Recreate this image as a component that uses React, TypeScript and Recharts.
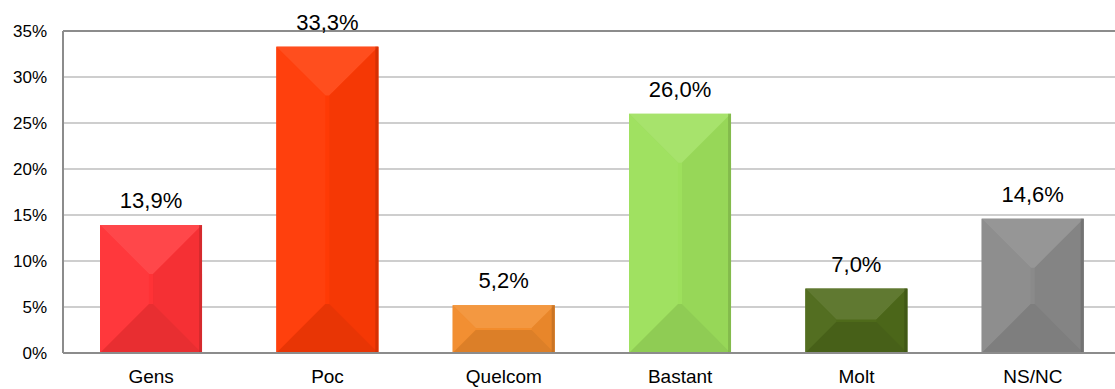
import { Bar, BarChart, CartesianGrid, Cell, LabelList, ReferenceLine, XAxis, YAxis } from "recharts";

const categories = ["Gens", "Poc", "Quelcom", "Bastant", "Molt", "NS/NC"];
const values = [13.9, 33.3, 5.2, 26.0, 7.0, 14.6];
const colors = ["#FF3236", "#FF3A05", "#F28C2C", "#9DE05C", "#4E6A1A", "#8A8A8A"];
const yTicks = [0, 5, 10, 15, 20, 25, 30, 35];

const data = categories.map((name, i) => ({ name, value: values[i], color: colors[i] }));

function shade(hex: string, amt: number) {
  // amt > 0 -> towards white, amt < 0 -> towards black
  const n = parseInt(hex.slice(1), 16);
  let r = (n >> 16) & 255;
  let g = (n >> 8) & 255;
  let b = n & 255;
  const t = amt > 0 ? 255 : 0;
  const p = Math.abs(amt);
  r = Math.round(r + (t - r) * p);
  g = Math.round(g + (t - g) * p);
  b = Math.round(b + (t - b) * p);
  return `rgb(${r},${g},${b})`;
}

function BevelBar(props: any) {
  const { x, y, width: w, height: h, payload } = props;
  if (!h || h <= 0) return null;
  const c = payload.color as string;
  const d = Math.min(w, h) * 0.48;
  const x2 = x + w;
  const y2 = y + h;
  return (
    <g>
      <rect x={x} y={y} width={w} height={h} fill={c} />
      {/* top face */}
      <polygon points={`${x},${y} ${x2},${y} ${x2 - d},${y + d} ${x + d},${y + d}`} fill={shade(c, 0.1)} />
      {/* left face */}
      <polygon points={`${x},${y} ${x + d},${y + d} ${x + d},${y2 - d} ${x},${y2}`} fill={shade(c, 0.03)} />
      {/* right face */}
      <polygon points={`${x2},${y} ${x2 - d},${y + d} ${x2 - d},${y2 - d} ${x2},${y2}`} fill={shade(c, -0.04)} />
      {/* bottom face */}
      <polygon points={`${x},${y2} ${x + d},${y2 - d} ${x2 - d},${y2 - d} ${x2},${y2}`} fill={shade(c, -0.09)} />
      <rect x={x2 - 3} y={y} width={3} height={h} fill={shade(c, -0.25)} opacity={0.6} />
    </g>
  );
}

export default function App() {
  return (
    <div style={{ position: "fixed", left: 0, top: 0, width: 1115, height: 389, overflow: "hidden", background: "#fff" }}>
      <BarChart
        width={1121}
        height={389}
        data={data}
        margin={{ top: 31, right: 0, left: 0, bottom: 0 }}
        barCategoryGap="21%"
        style={{ fontFamily: "'Liberation Sans', Arial, sans-serif" }}
      >
        <CartesianGrid vertical={false} stroke="#BEBEBE" strokeWidth={1.5} />
        <XAxis
          dataKey="name"
          axisLine={{ stroke: "#8C8C8C", strokeWidth: 2 }}
          tickLine={false}
          tick={{ fill: "#000", fontSize: 19 }}
          tickMargin={11}
          height={36}
        />
        <YAxis
          domain={[0, 35]}
          ticks={yTicks}
          interval={0}
          tickFormatter={(v: number) => `${v}%`}
          axisLine={{ stroke: "#8C8C8C", strokeWidth: 2 }}
          tickLine={false}
          tick={{ fill: "#000", fontSize: 17 }}
          tickMargin={10}
          width={63}
        />
        <ReferenceLine y={35} stroke="#8C8C8C" strokeWidth={2} />
        <Bar dataKey="value" isAnimationActive={false} shape={<BevelBar />}>
          {data.map((d) => (
            <Cell key={d.name} fill={d.color} />
          ))}
          <LabelList
            dataKey="value"
            position="top"
            offset={17}
            fill="#000"
            fontSize={22}
            formatter={(v: any) => `${Number(v).toFixed(1).replace(".", ",")}%`}
          />
        </Bar>
      </BarChart>
    </div>
  );
}
